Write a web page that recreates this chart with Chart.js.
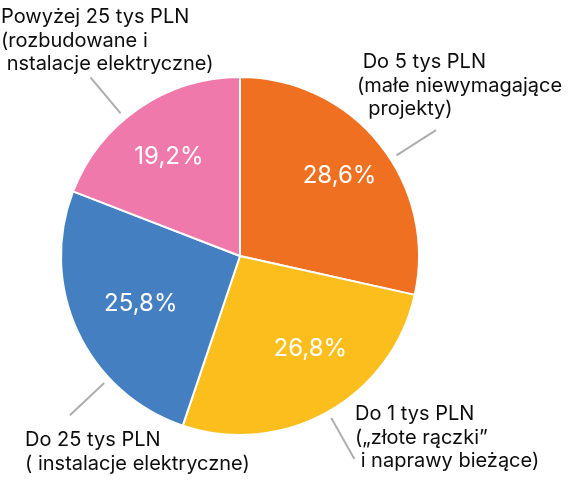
<!DOCTYPE html>
<html>
<head>
<meta charset="utf-8">
<script src="https://cdn.jsdelivr.net/npm/chart.js@4.4.1/dist/chart.umd.min.js"></script>
<style>
html,body{margin:0;padding:0;background:#fff;}
#wrap{width:568px;height:491px;position:relative;}
</style>
</head>
<body>
<div id="wrap"><canvas id="c" width="568" height="491"></canvas></div>
<script>
const categories = [
  [" Do 5 tys PLN", "(małe niewymagające", "  projekty)"],
  ["Do 1 tys PLN", "(„złote rączki”", " i naprawy bieżące)"],
  ["Do 25 tys PLN", "( instalacje elektryczne)"],
  ["Powyżej 25 tys PLN", "(rozbudowane i", " nstalacje elektryczne)"]
];
const values = [28.6, 26.8, 25.8, 19.2];
const valueLabels = ["28,6%", "26,8%", "25,8%", "19,2%"];
const colors = ["#EE7020", "#FBBE1C", "#447FC2", "#EE79AA"];

// layout: value label radius factor / angle offset, leader angle offset (deg), label block offset from centre
const labelLayout = [
  {vr: 0.715, vAng: -0.2, dAng: 6,    dx: 117,  dy: -194},
  {vr: 0.65,  vAng: -7.8, dAng: 0,    dx: 115,  dy: 158},
  {vr: 0.615, vAng: -0.6, dAng: -18,  dx: -215, dy: 184},
  {vr: 0.68,  vAng: -1.3, dAng: -5.5, dx: -239, dy: -239}
];

const FONT = 'Inter, "Noto Sans", sans-serif';

const labelPlugin = {
  id: 'outLabels',
  afterDatasetsDraw(chart) {
    const ctx = chart.ctx;
    const meta = chart.getDatasetMeta(0);
    meta.data.forEach((arc, i) => {
      const p = arc.getProps(['x','y','startAngle','endAngle','outerRadius'], true);
      const mid = (p.startAngle + p.endAngle) / 2;
      const r = p.outerRadius;
      const lay = labelLayout[i];
      ctx.save();
      ctx.fillStyle = '#fff';
      ctx.font = '24px ' + FONT;
      ctx.textAlign = 'center';
      ctx.textBaseline = 'middle';
      const va = mid + lay.vAng * Math.PI / 180;
      ctx.fillText(valueLabels[i], p.x + Math.cos(va) * r * lay.vr, p.y + Math.sin(va) * r * lay.vr);
      const a = mid + lay.dAng * Math.PI / 180;
      ctx.strokeStyle = '#ADADAD';
      ctx.lineWidth = 2;
      ctx.beginPath();
      ctx.moveTo(p.x + Math.cos(a) * (r + 7), p.y + Math.sin(a) * (r + 7));
      ctx.lineTo(p.x + Math.cos(a) * (r + 54), p.y + Math.sin(a) * (r + 54));
      ctx.stroke();
      ctx.fillStyle = '#0d0d0d';
      ctx.font = '20px ' + FONT;
      ctx.textAlign = 'left';
      ctx.textBaseline = 'middle';
      categories[i].forEach((line, k) => {
        ctx.fillText(line, p.x + lay.dx, p.y + lay.dy + k * 23.5);
      });
      ctx.restore();
    });
  }
};

new Chart(document.getElementById('c'), {
  type: 'pie',
  data: {
    labels: categories.map(c => c.join(' ').trim()),
    datasets: [{
      data: values,
      backgroundColor: colors,
      borderColor: '#ffffff',
      borderWidth: 2
    }]
  },
  options: {
    responsive: false,
    animation: false,
    layout: {padding: {left: 60, right: 148, top: 76, bottom: 55}},
    plugins: {legend: {display: false}, tooltip: {enabled: false}}
  },
  plugins: [labelPlugin]
});
</script>
</body>
</html>
